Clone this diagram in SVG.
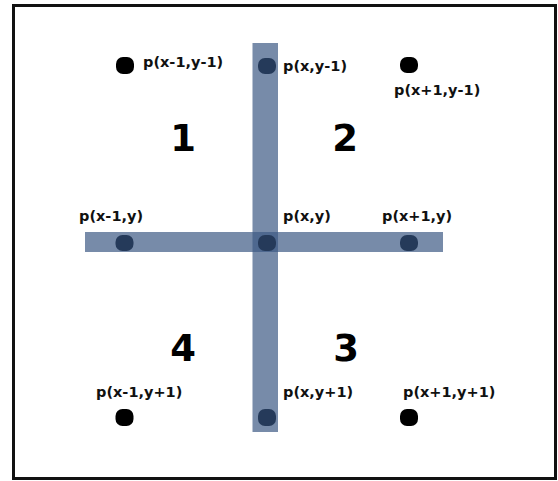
<svg xmlns="http://www.w3.org/2000/svg" width="558" height="481" viewBox="0 0 558 481">
<style>
.lbl{font-family:"DejaVu Sans","Verdana",sans-serif;font-weight:bold;font-size:14.5px;fill:#111}
.num{font-family:"DejaVu Sans","Verdana",sans-serif;font-weight:bold;font-size:37px;fill:#000;text-anchor:middle}
.bar{fill:#3d5a85;fill-opacity:0.7}
.blk{fill:#000}
.blu{fill:#253a5a}
</style>
<rect x="0" y="0" width="558" height="481" fill="#fff"/>
<rect x="13.5" y="5.5" width="542" height="473" fill="none" stroke="#111" stroke-width="3"/>
<g id="connectors">
<rect class="bar" x="85" y="232" width="358" height="20"/>
<rect class="bar" x="252.5" y="43" width="25.5" height="389"/>
</g>
<g id="p_xm1_ym1"><rect class="blk" x="116" y="57" width="18" height="17" rx="7"/><text class="lbl" x="143" y="66.5">p(x-1,y-1)</text></g>
<g id="p_x_ym1"><rect class="blu" x="258" y="58" width="18" height="16" rx="7"/><text class="lbl" x="283" y="70.5">p(x,y-1)</text></g>
<g id="p_xp1_ym1"><rect class="blk" x="400" y="57" width="18" height="16" rx="7"/><text class="lbl" x="394" y="94.5">p(x+1,y-1)</text></g>
<g id="p_xm1_y"><rect class="blu" x="115.5" y="235" width="18" height="16" rx="7"/><text class="lbl" x="79" y="221">p(x-1,y)</text></g>
<g id="p_x_y"><rect class="blu" x="258" y="235" width="18" height="16" rx="7"/><text class="lbl" x="283" y="221">p(x,y)</text></g>
<g id="p_xp1_y"><rect class="blu" x="400" y="235" width="18" height="16" rx="7"/><text class="lbl" x="382" y="221">p(x+1,y)</text></g>
<g id="p_xm1_yp1"><rect class="blk" x="115.5" y="409" width="18" height="17" rx="7"/><text class="lbl" x="96" y="397">p(x-1,y+1)</text></g>
<g id="p_x_yp1"><rect class="blu" x="258" y="409" width="18" height="17" rx="7"/><text class="lbl" x="283" y="397">p(x,y+1)</text></g>
<g id="p_xp1_yp1"><rect class="blk" x="400" y="409" width="18" height="17" rx="7"/><text class="lbl" x="403" y="397">p(x+1,y+1)</text></g>
<g id="regions">
<text class="num" x="183" y="151">1</text>
<text class="num" x="345" y="151">2</text>
<text class="num" x="346" y="361">3</text>
<text class="num" x="183" y="361">4</text>
</g>
</svg>
